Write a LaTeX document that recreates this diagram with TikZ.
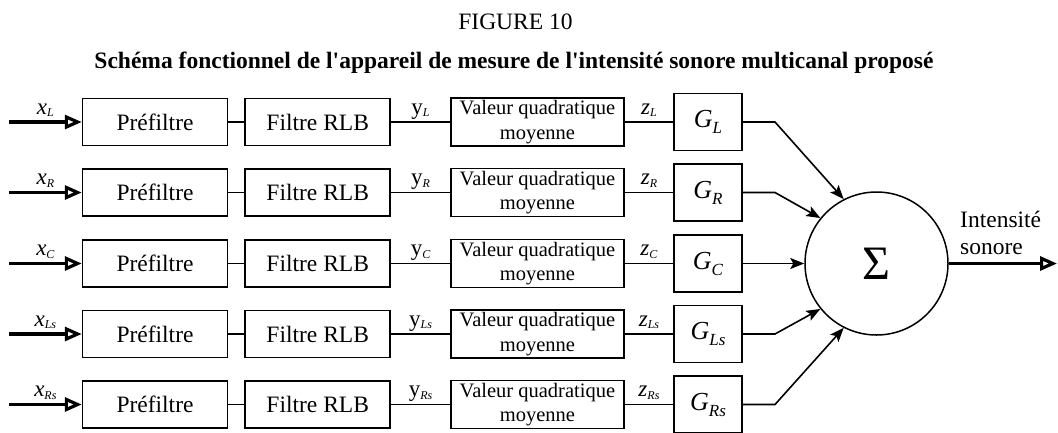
\documentclass[tikz,border=0pt]{standalone}
\usepackage{fontspec}
\setmainfont{Liberation Serif}
\usetikzlibrary{arrows.meta}

% letter with a lowered italic index
\newcommand\sbs[2]{#1\raisebox{-2.5pt}{\fontsize{12}{12}\selectfont\itshape #2}}
\newcommand\gain[1]{{\fontsize{26}{26}\selectfont\itshape G}\raisebox{-6pt}{\fontsize{17}{17}\selectfont\itshape #1}}

\tikzset{
  blk/.style={draw, line width=1.5pt, inner sep=0pt, minimum height=47pt,
              font=\fontsize{23.5}{26}\selectfont},
  prebox/.style={blk, minimum width=145pt},
  rlbbox/.style={blk, minimum width=145pt},
  msbox/.style={blk, minimum width=173pt, minimum height=48pt, align=center,
                font=\fontsize{20.5}{24.5}\selectfont},
  gbox/.style={blk, minimum width=68pt, minimum height=57pt},
  wire/.style={line width=1.5pt},
  inarrow/.style={line width=3.4pt,
                  -{Triangle[open, length=17pt, width=14pt, line width=3.2pt]}},
  sumarrow/.style={line width=1.6pt,
                   -{Stealth[length=14pt, width=11pt, inset=3pt]}},
  lab/.style={anchor=base, yshift=8pt, inner sep=0pt,
              font=\fontsize{23}{23}\selectfont},
}

\begin{document}
\begin{tikzpicture}[x=1pt, y=-1pt]
\useasboundingbox (0,0) rectangle (1058,432);

\node[font=\fontsize{23.5}{26}\selectfont] (title) at (515.5,22) {FIGURE 10};
\node[font=\fontsize{23.5}{26}\selectfont\bfseries] (subtitle) at (514,63)
  {Schéma fonctionnel de l\textquotesingle appareil de mesure de l\textquotesingle intensité sonore multicanal proposé};

% summing junction
\node[draw, circle, line width=1.5pt, minimum size=143pt, inner sep=0pt] (sum)
  at (876.5,263.5) {\fontsize{48}{48}\selectfont Σ};

% one chain per channel
\foreach \n/\y/\a in {L/122/117, R/192.5/141, C/263.5/180, Ls/334/219, Rs/404.5/243}{
  \node[prebox] (p\n) at (155,\y) {Préfiltre};
  \node[rlbbox] (f\n) at (317.7,\y) {Filtre RLB};
  \node[msbox] (v\n) at (537.4,\y) {Valeur quadratique\\moyenne};
  \node[gbox] (g\n) at (708,\y) {\gain{\n}};
  \coordinate (i\n) at (9,\y);
  \coordinate (k\n) at (775,\y);
  \draw[inarrow] (i\n) -- (p\n) node[midway, lab] {\sbs{\textit{x}}{\n}};
  \draw[wire] (p\n) -- (f\n);
  \draw[wire] (f\n) -- (v\n) node[midway, lab] {\sbs{y}{\n}};
  \draw[wire] (v\n) -- (g\n) node[midway, lab] {\sbs{\textit{z}}{\n}};
  \draw[sumarrow] (g\n) -- (k\n) -- (sum.\a);
}

% output
\coordinate (out) at (1057,263.5);
\draw[inarrow] (sum.east) -- (out);
\node[anchor=west, align=left, inner sep=0pt, font=\fontsize{23.5}{26.5}\selectfont]
  (outlab) at (960,233) {Intensité\\sonore};
\end{tikzpicture}
\end{document}
